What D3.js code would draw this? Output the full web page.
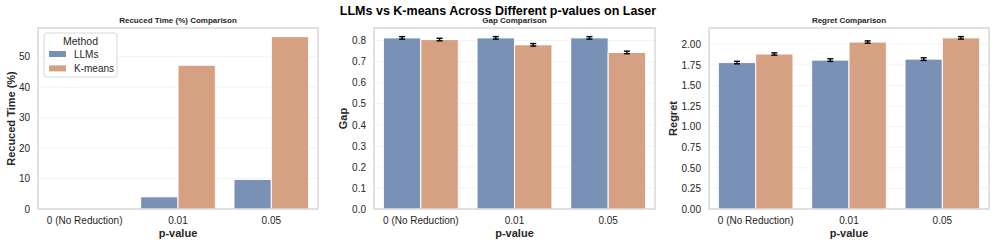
<!DOCTYPE html>
<html>
<head>
  <meta charset='utf-8'>
  <script src='https://cdn.jsdelivr.net/npm/d3@7/dist/d3.min.js'></script>
  <style>
    body { margin: 0; background: #fff; }
    svg { font-family: 'Liberation Sans', Arial, sans-serif; }
  </style>
</head>
<body>
<div id='chart'></div>
<script>
  var categories = ['0 (No Reduction)', '0.01', '0.05'];
  var methods = ['LLMs', 'K-means'];
  var colors = ['#7a91b6', '#d6a182'];

  var timeLLM = [0, 4.0, 9.7];
  var timeKM = [0, 47.2, 56.6];

  var gapLLM = [0.813, 0.813, 0.813];
  var gapLLMErr = [0.006, 0.006, 0.006];
  var gapKM = [0.805, 0.780, 0.744];
  var gapKMErr = [0.006, 0.006, 0.006];

  var regretLLM = [1.778, 1.808, 1.820];
  var regretLLMErr = [0.015, 0.016, 0.016];
  var regretKM = [1.882, 2.027, 2.078];
  var regretKMErr = [0.014, 0.014, 0.015];

  var timeTicks = [0, 10, 20, 30, 40, 50];
  var gapTicks = [0, 0.1, 0.2, 0.3, 0.4, 0.5, 0.6, 0.7, 0.8];
  var regretTicks = [0, 0.25, 0.5, 0.75, 1.0, 1.25, 1.5, 1.75, 2.0];

  var W = 996, H = 246;
  var svg = d3.select('#chart').append('svg')
    .attr('width', W).attr('height', H);

  svg.append('text')
    .attr('x', 498).attr('y', 15)
    .attr('text-anchor', 'middle')
    .attr('font-size', '12.5px').attr('font-weight', 'bold')
    .attr('fill', '#000')
    .text('LLMs vs K-means Across Different p-values on Laser');

  var plotTop = 28, plotBottom = 209;

  function panel(opt) {
    var g = svg.append('g');
    var x = d3.scaleBand().domain(categories)
      .range([opt.left, opt.right])
      .paddingInner(0.2).paddingOuter(0.1);
    var x1 = d3.scaleBand().domain(methods).range([0, x.bandwidth()]);

    var maxV = 0;
    opt.series.forEach(function(s) {
      s.values.forEach(function(v, i) {
        var e = s.err ? s.err[i] : 0;
        maxV = Math.max(maxV, v + e);
      });
    });
    var y = d3.scaleLinear().domain([0, maxV * 1.05]).range([plotBottom, plotTop]);

    // grid
    g.selectAll('.grid').data(opt.ticks).enter().append('line')
      .attr('x1', opt.left).attr('x2', opt.right)
      .attr('y1', function(d) { return y(d); })
      .attr('y2', function(d) { return y(d); })
      .attr('stroke', '#f3f3f3').attr('stroke-width', 1);

    // bars
    opt.series.forEach(function(s, si) {
      g.selectAll('.bar' + si).data(s.values).enter().append('rect')
        .attr('x', function(d, i) { return x(categories[i]) + x1(methods[si]); })
        .attr('y', function(d) { return y(d); })
        .attr('width', x1.bandwidth())
        .attr('height', function(d) { return plotBottom - y(d); })
        .attr('fill', colors[si])
        .attr('stroke', '#fff').attr('stroke-width', 1);
    });

    // error bars
    opt.series.forEach(function(s, si) {
      if (!s.err) return;
      s.values.forEach(function(v, i) {
        var cx = x(categories[i]) + x1(methods[si]) + x1.bandwidth() / 2;
        var e = s.err[i];
        var eg = g.append('g').attr('stroke', '#000').attr('stroke-width', 1.4);
        eg.append('line').attr('x1', cx).attr('x2', cx)
          .attr('y1', y(v - e)).attr('y2', y(v + e));
        eg.append('line').attr('x1', cx - 3).attr('x2', cx + 3)
          .attr('y1', y(v - e)).attr('y2', y(v - e));
        eg.append('line').attr('x1', cx - 3).attr('x2', cx + 3)
          .attr('y1', y(v + e)).attr('y2', y(v + e));
      });
    });

    // frame
    g.append('rect')
      .attr('x', opt.left).attr('y', plotTop)
      .attr('width', opt.right - opt.left).attr('height', plotBottom - plotTop)
      .attr('fill', 'none').attr('stroke', '#d0d0d0').attr('stroke-width', 1.25);

    // y axis
    var yAxis = g.append('g')
      .attr('transform', 'translate(' + opt.left + ',0)')
      .call(d3.axisLeft(y).tickValues(opt.ticks).tickFormat(opt.fmt).tickSize(0).tickPadding(8));
    yAxis.select('.domain').remove();
    yAxis.selectAll('text').attr('font-size', '10px').attr('fill', '#262626')
      .attr('font-family', "'Liberation Sans', Arial, sans-serif");

    // x axis
    var xAxis = g.append('g')
      .attr('transform', 'translate(0,' + plotBottom + ')')
      .call(d3.axisBottom(x).tickSize(0).tickPadding(8));
    xAxis.select('.domain').remove();
    xAxis.selectAll('text').attr('font-size', '10px').attr('fill', '#262626')
      .attr('font-family', "'Liberation Sans', Arial, sans-serif");

    // titles
    var cx = (opt.left + opt.right) / 2;
    g.append('text').attr('x', cx).attr('y', 23)
      .attr('text-anchor', 'middle').attr('font-size', '8px').attr('font-weight', 'bold')
      .attr('fill', '#262626').text(opt.title);
    g.append('text').attr('x', cx).attr('y', 237)
      .attr('text-anchor', 'middle').attr('font-size', '11px').attr('font-weight', 'bold')
      .attr('fill', '#262626').text('p-value');
    g.append('text')
      .attr('transform', 'translate(' + opt.ylabelX + ',' + (plotTop + plotBottom) / 2 + ') rotate(-90)')
      .attr('text-anchor', 'middle').attr('font-size', '11px').attr('font-weight', 'bold')
      .attr('fill', '#262626').text(opt.ylabel);

    return g;
  }

  var p1 = panel({
    left: 38, right: 318, title: 'Recuced Time (%) Comparison', ylabel: 'Recuced Time (%)', ylabelX: 15,
    ticks: timeTicks, fmt: d3.format('d'),
    series: [{ values: timeLLM }, { values: timeKM }]
  });
  panel({
    left: 374, right: 655, title: 'Gap Comparison', ylabel: 'Gap', ylabelX: 347,
    ticks: gapTicks, fmt: d3.format('.1f'),
    series: [{ values: gapLLM, err: gapLLMErr }, { values: gapKM, err: gapKMErr }]
  });
  panel({
    left: 709, right: 989, title: 'Regret Comparison', ylabel: 'Regret', ylabelX: 677,
    ticks: regretTicks, fmt: d3.format('.2f'),
    series: [{ values: regretLLM, err: regretLLMErr }, { values: regretKM, err: regretKMErr }]
  });

  // legend
  var lg = p1.append('g');
  lg.append('rect').attr('x', 44).attr('y', 33).attr('width', 73).attr('height', 44)
    .attr('rx', 2.5).attr('fill', '#fff').attr('fill-opacity', 0.8)
    .attr('stroke', '#d6d6d6').attr('stroke-width', 1);
  lg.append('text').attr('x', 80.5).attr('y', 45)
    .attr('text-anchor', 'middle').attr('font-size', '10.5px').attr('fill', '#262626')
    .text('Method');
  methods.forEach(function(m, i) {
    lg.append('rect').attr('x', 49).attr('y', 51 + i * 14.4).attr('width', 17).attr('height', 6)
      .attr('fill', colors[i]);
    lg.append('text').attr('x', 74).attr('y', 58 + i * 14.4)
      .attr('font-size', '10px').attr('fill', '#262626').text(m);
  });
</script>
</body>
</html>
